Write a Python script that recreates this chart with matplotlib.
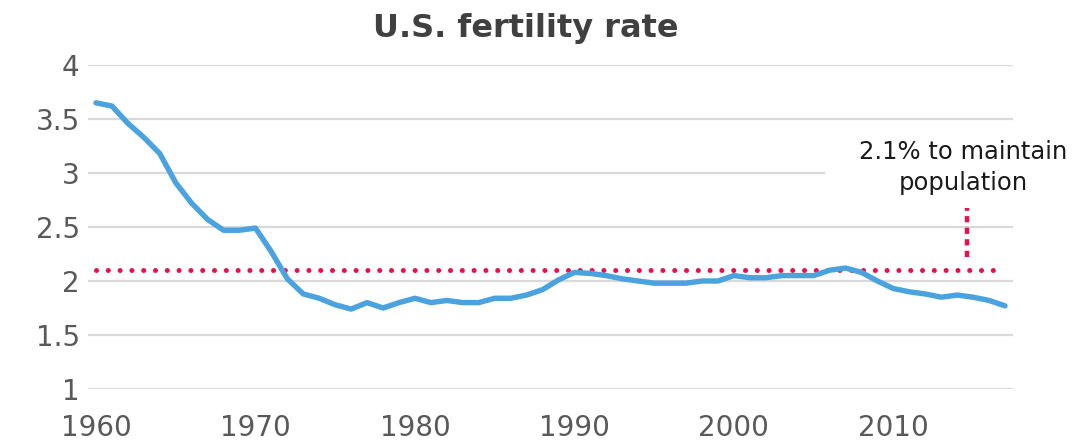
import matplotlib
matplotlib.use("Agg")
import matplotlib.pyplot as plt
from matplotlib.patches import Rectangle
import numpy as np

years = np.arange(1960, 2018)
fertility = [
    3.65, 3.62, 3.46, 3.33, 3.18, 2.91, 2.72, 2.57, 2.47, 2.47,
    2.49, 2.27, 2.02, 1.88, 1.84, 1.78, 1.74, 1.80, 1.75, 1.80,
    1.84, 1.80, 1.82, 1.80, 1.80, 1.84, 1.84, 1.87, 1.92, 2.01,
    2.08, 2.07, 2.05, 2.02, 2.00, 1.98, 1.98, 1.98, 2.00, 2.00,
    2.05, 2.03, 2.03, 2.05, 2.05, 2.05, 2.10, 2.12, 2.08, 2.00,
    1.93, 1.90, 1.88, 1.85, 1.87, 1.85, 1.82, 1.77,
]
replacement = 2.1
note_year = 2014.6
note_top = 2.68
tick_years = [1960, 1970, 1980, 1990, 2000, 2010]
y_ticks = [1, 1.5, 2, 2.5, 3, 3.5, 4]

blue = "#4aa3de"
red = "#e8104a"
grey = "#595959"

fig = plt.figure(figsize=(10.72, 4.44), dpi=100)
ax = fig.add_axes([88 / 1072, 1 - 389 / 444, 925 / 1072, 324 / 444])

ax.set_xlim(1959.5, 2017.5)
ax.set_ylim(1, 4)
for spine in ax.spines.values():
    spine.set_visible(False)
ax.set_yticks(y_ticks)
ax.set_yticklabels(["1", "1.5", "2", "2.5", "3", "3.5", "4"])
ax.set_xticks(tick_years)
ax.tick_params(axis="both", length=0, labelsize=20, labelcolor=grey)
ax.tick_params(axis="y", pad=6)
ax.tick_params(axis="x", pad=18)
ax.grid(axis="y", color="#d9d9d9", linewidth=1.6, zorder=0)
ax.set_axisbelow(True)

# white box behind the note hides part of the gridline, as in the original
ax.add_patch(Rectangle((2005.7, 2.85), 12.5, 0.45, facecolor="white",
                       edgecolor="none", zorder=1, clip_on=False))

ax.plot([years[0], years[-1] - 0.5], [replacement, replacement], color=red,
        linewidth=3.6, dashes=[0.01, 2.35], dash_capstyle="round", zorder=2)
ax.plot([note_year, note_year], [replacement + 0.12, note_top], color=red,
        linewidth=3.2, dashes=[1.4, 1.2], dash_capstyle="butt", zorder=2)
ax.plot(years, fertility, color=blue, linewidth=3.9, solid_capstyle="round",
        solid_joinstyle="round", zorder=3)

ax.text(2014.4, 3.05, "2.1% to maintain\npopulation", ha="center", va="center",
        fontsize=17.5, color="#1a1a1a", linespacing=1.4, zorder=4)

fig.text(0.49, 0.935, "U.S. fertility rate", ha="center", va="center",
         fontsize=23, fontweight="bold", color="#404040")

fig.savefig("out.png", dpi=100)
